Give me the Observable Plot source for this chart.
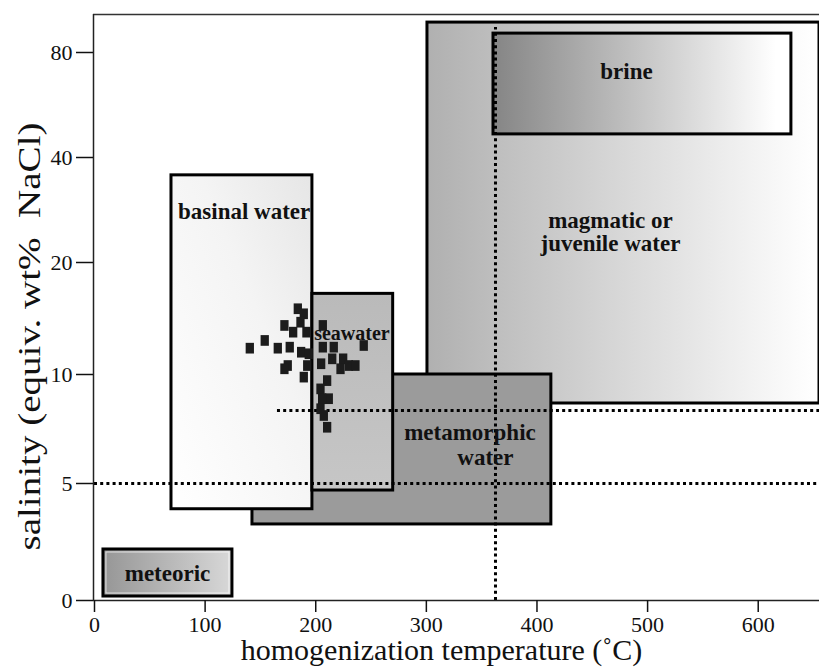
<!DOCTYPE html>
<html><head><meta charset="utf-8">
<script src="https://cdn.jsdelivr.net/npm/d3@7"></script>
<script src="https://cdn.jsdelivr.net/npm/@observablehq/plot@0.6"></script>
<style>
body{margin:0;background:#fff;}
#chart svg{display:block;}
</style></head><body><div id="chart"></div>
<script>
// ---- data ----
const regionNames   = ["magmatic or\njuvenile water", "brine", "metamorphic water", "basinal water", "seawater", "meteoric"];
const regionTempMin = [301, 360.7, 142.8, 69.6, 197, 8.1];
const regionTempMax = [655.4, 630, 413, 197, 270, 124.7];
const regionSalMin  = [8.67, 48.8, 3.25, 3.9, 4.7, 0.17];
const regionSalMax  = [91.4, 87.2, 10, 36.6, 17.2, 2.18];

const fluidTemp = [140.4, 153.9, 165.7, 176.5, 171.7, 183.8, 189.2, 186.2, 179.6, 191.6, 206.4, 186.8, 193.7, 206.4, 216.3, 243.4, 174.7, 171.7, 192.3, 204.9, 214.9, 224.8, 222.4, 229.9, 235.9, 189.2, 210.3, 204.3, 211.8, 205.8, 204.3, 207.3, 210.3];
const fluidSalinity = [12.35, 13.04, 12.35, 12.44, 14.38, 15.87, 15.42, 14.67, 13.78, 13.78, 14.38, 11.99, 11.85, 12.44, 12.44, 12.59, 10.8, 10.51, 10.8, 10.96, 11.4, 11.4, 10.51, 10.8, 10.8, 9.88, 9.72, 9.34, 8.89, 8.89, 8.43, 8.12, 7.58];

const labelText = ["brine", "magmatic or\njuvenile water", "basinal water", "seawater", "metamorphic", "water", "meteoric"];
const labelTemp = [480.9, 466.4, 75.5, 232.7, 339.4, 353.4, 66];
const labelSal  = [72.8, 25.8, 29.7, 13.66, 7.34, 6.19, 1.15];

const refTemp = 362.5;            // vertical dotted line
const refTempTop = 89.5;
const refSal = [5, 8.35];         // horizontal dotted lines
const refSalFrom = [0, 165.4];

const xTicks = [0, 100, 200, 300, 400, 500, 600];
const yTicks = [0, 5, 10, 20, 40, 80];
// the salinity axis of the original is non-uniform: where each tick sits (axis layout)
const yTickPos = [0, 117, 226, 338, 443, 548];
const f = d3.scaleLinear().domain(yTicks).range(yTickPos);

// ---- styles ----
const regionFill = {
  "magmatic or\njuvenile water": "url(#gMag)",
  "brine": "url(#gBrine)",
  "metamorphic water": "#9b9b9b",
  "basinal water": "url(#gBas)",
  "seawater": "url(#gSea)",
  "meteoric": "url(#gMet)"
};
const labelSize = {"seawater": 20};

const regions = regionNames.map((n, i) => ({name: n, x1: regionTempMin[i], x2: regionTempMax[i], y1: regionSalMin[i], y2: regionSalMax[i]}));
const fluids = fluidTemp.map((t, i) => ({t, s: fluidSalinity[i]}));
const labels = labelText.map((l, i) => ({l, t: labelTemp[i], s: labelSal[i]}));

const serif = "'Liberation Serif','Times New Roman',serif";
const tallSquare = {draw(ctx, size) { const s = Math.sqrt(size); ctx.rect(-0.45 * s, -0.58 * s, 0.9 * s, 1.16 * s); }};
const xMin = -0.9, xMax = 655.4, yMax = 586;

const marks = [];
regions.forEach(r => {
  marks.push(Plot.rect([r], {x1: "x1", x2: "x2", y1: d => f(d.y1), y2: d => f(d.y2), fill: regionFill[r.name], stroke: "#000", strokeWidth: 3}));
  if (r.name === "meteoric") {
    marks.push(Plot.rect([r], {x1: "x1", x2: "x2", y1: d => f(d.y1), y2: d => f(d.y2), fill: "none", stroke: "#fff", strokeOpacity: 0.7, strokeWidth: 1, inset: 3}));
  }
});
// dotted reference lines
marks.push(Plot.ruleX([refTemp], {y1: 0, y2: f(refTempTop), stroke: "#000", strokeWidth: 3, strokeDasharray: "3,3.2"}));
refSal.forEach((s, i) => marks.push(Plot.ruleY([f(s)], {x1: refSalFrom[i], x2: xMax, stroke: "#000", strokeWidth: 3, strokeDasharray: "3,3.2"})));
// fluid inclusion data
marks.push(Plot.dot(fluids, {x: "t", y: d => f(d.s), symbol: tallSquare, r: 5.2, fill: "#1c1c1c", stroke: "none"}));
// labels
const labelOpts = {x: "t", y: d => f(d.s), text: "l", fontFamily: serif, fontWeight: "bold", fill: "#111",
  fontSize: d => labelSize[d.l] || 23, lineHeight: 1.02};
marks.push(Plot.text(labels.filter(d => d.l !== "basinal water"), {...labelOpts, textAnchor: "middle"}));
marks.push(Plot.text(labels.filter(d => d.l === "basinal water"), {...labelOpts, textAnchor: "start"}));
// frame lines / axes
marks.push(Plot.ruleY([0], {x1: xMin, x2: xMax, stroke: "#222", strokeWidth: 1.5}));
marks.push(Plot.ruleY([yMax], {x1: xMin, x2: xMax, stroke: "#333", strokeWidth: 1.5}));
marks.push(Plot.ruleX([xMin], {y1: 0, y2: yMax, stroke: "#222", strokeWidth: 1.5}));
marks.push(Plot.axisX({ticks: xTicks, tickSize: 12, tickPadding: 4, fontSize: 22, fontFamily: serif, label: null, color: "#111", strokeWidth: 1.5, tickFormat: d => String(d)}));
marks.push(Plot.axisY({ticks: yTicks.map(f), tickSize: 17, tickPadding: 4, fontSize: 22, fontFamily: serif, label: null, color: "#111", strokeWidth: 1.5,
  tickFormat: d => String(yTicks[yTickPos.indexOf(d)])}));
// axis titles
marks.push(Plot.text(["homogenization temperature (˚C)"], {x: 313.7, frameAnchor: "bottom", dy: 59, text: d => d, fontSize: 30, fontFamily: serif, fill: "#111"}));
marks.push(Plot.text(["salinity (equiv. wt%  NaCl)"], {x: -57.9, y: 600 - 336, rotate: -90, text: d => d, fontSize: 31, fontFamily: serif, fill: "#111"}));

const svg = Plot.plot({
  width: 819, height: 669,
  marginLeft: 93, marginRight: 0, marginTop: 14, marginBottom: 69,
  x: {domain: [xMin, xMax]},
  y: {domain: [0, yMax]},
  style: {fontFamily: serif, background: "#fff", overflow: "visible"},
  marks
});

// the reference's salinity title is drawn stretched along its length
d3.select(svg).selectAll("text").filter(function() { return this.textContent.startsWith("salinity"); })
  .each(function() { const t = this.getAttribute("transform") || ""; this.setAttribute("transform", t + " scale(1.26,1)"); });

d3.select(svg).insert("defs", ":first-child").html(`
  <linearGradient id="gMag" x1="0" y1="0" x2="1" y2="0"><stop offset="0" stop-color="#b0b0b0"/><stop offset="0.95" stop-color="#fcfcfc"/><stop offset="1" stop-color="#ffffff"/></linearGradient>
  <linearGradient id="gBrine" x1="0" y1="0" x2="1" y2="0"><stop offset="0" stop-color="#858585"/><stop offset="0.95" stop-color="#ffffff"/></linearGradient>
  <linearGradient id="gBas" x1="0" y1="1" x2="1" y2="0"><stop offset="0" stop-color="#ffffff"/><stop offset="0.6" stop-color="#f4f4f4"/><stop offset="1" stop-color="#e6e6e6"/></linearGradient>
  <linearGradient id="gSea" x1="0" y1="0" x2="0" y2="1"><stop offset="0" stop-color="#bababa"/><stop offset="1" stop-color="#c6c6c6"/></linearGradient>
  <linearGradient id="gMet" x1="0" y1="0" x2="1" y2="0"><stop offset="0" stop-color="#969696"/><stop offset="1" stop-color="#d8d8d8"/></linearGradient>
`);
document.getElementById("chart").appendChild(svg);
</script></body></html>
